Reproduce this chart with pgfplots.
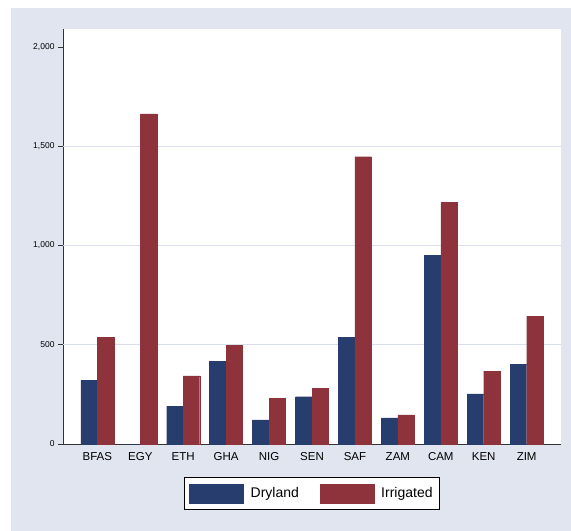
\documentclass[border=0pt]{standalone}
\usepackage{pgfplots}
\pgfplotsset{compat=1.18}
\usepackage{fontspec}
\setmainfont{Liberation Sans}
\definecolor{bgc}{HTML}{E0E5F0}
\definecolor{dry}{HTML}{263D6D}
\definecolor{irr}{HTML}{8E333B}
\definecolor{gridc}{HTML}{D9E0EC}
\begin{document}
\begin{tikzpicture}
\useasboundingbox (0,0) rectangle (571bp,531bp);
\fill[white] (0,0) rectangle (571bp,531bp);
\fill[bgc] (11bp,0) rectangle (571bp,523bp);
\begin{axis}[
  at={(63bp,87bp)}, anchor=south west,
  scale only axis, width=498bp, height=415bp,
  xmin=-0.8, xmax=10.8, ymin=0, ymax=2090,
  axis background/.style={fill=white},
  axis x line*=bottom, axis y line*=left,
  axis line style={-, draw=black!80, line width=0.6bp},
  ybar=0pt, bar width=16.5bp,
  xtick={0,...,10},
  xticklabels={BFAS,EGY,ETH,GHA,NIG,SEN,SAF,ZAM,CAM,KEN,ZIM},
  x tick label style={font=\fontsize{11.5bp}{12bp}\selectfont},
  major x tick style={draw=none},
  ytick={0,500,1000,1500,2000},
  yticklabels={0,500,{1,000},{1,500},{2,000}},
  y tick label style={font=\fontsize{8.5bp}{9bp}\selectfont},
  tick align=outside, major tick length=5bp,
  major y tick style={draw=black!80, line width=0.6bp},
  extra y ticks={500,1000,1500}, extra y tick labels={},
  extra y tick style={grid=major, major tick length=0pt, major grid style={gridc, line width=0.8bp}},
  legend columns=2,
  legend image code/.code={\fill[#1] (0bp,-9.5bp) rectangle (54bp,9.5bp);},
  legend style={at={(0.5,-0.119)}, anchor=center, draw=black, line width=0.6bp, fill=white,
    font=\fontsize{14bp}{16bp}\selectfont, inner xsep=5bp, inner ysep=6bp,
    /tikz/every odd column/.append style={column sep=5bp},
    /tikz/every even column/.append style={column sep=19bp}},
]
\addplot[fill=dry, draw=dry, line width=0.3bp] coordinates {(0,322) (1,0) (2,191) (3,417) (4,121) (5,238) (6,538) (7,132) (8,950) (9,252) (10,402)};
\addplot[fill=irr, draw=irr, line width=0.3bp] coordinates {(0,538) (1,1663) (2,343) (3,497) (4,231) (5,282) (6,1447) (7,147) (8,1216) (9,367) (10,643)};
\legend{Dryland,Irrigated}
\end{axis}
\end{tikzpicture}
\end{document}
